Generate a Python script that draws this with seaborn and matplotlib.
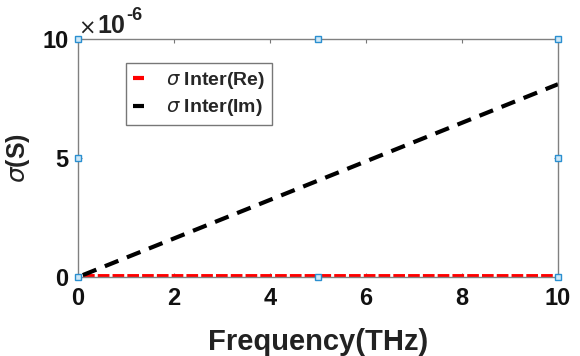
import matplotlib
matplotlib.use("Agg")
import matplotlib.pyplot as plt
import seaborn as sns
import pandas as pd
from matplotlib.ticker import FuncFormatter

# Data (frequency in THz, conductivity in S)
freq = [0.1, 1, 2, 3, 4, 5, 6, 7, 8, 9, 10]
sigma_inter_re = [0.05e-6, 0.05e-6, 0.05e-6, 0.05e-6, 0.05e-6, 0.05e-6,
                  0.05e-6, 0.05e-6, 0.05e-6, 0.05e-6, 0.05e-6]
sigma_inter_im = [0.08e-6, 0.81e-6, 1.62e-6, 2.43e-6, 3.24e-6, 4.05e-6,
                  4.86e-6, 5.67e-6, 6.48e-6, 7.29e-6, 8.10e-6]
series_labels = [r"$\sigma$ Inter(Re)", r"$\sigma$ Inter(Im)"]
x_ticks = [0, 2, 4, 6, 8, 10]
y_ticks = [0, 5e-6, 10e-6]

sns.set_theme(style="white")
plt.rcParams["font.family"] = ["Liberation Sans", "DejaVu Sans"]
plt.rcParams["mathtext.fontset"] = "dejavusans"

df = pd.DataFrame({"f": freq * 2,
                   "s": sigma_inter_re + sigma_inter_im,
                   "series": [series_labels[0]] * len(freq) + [series_labels[1]] * len(freq)})

fig = plt.figure(figsize=(5.8, 3.56), dpi=100)
ax = fig.add_axes([78 / 580, 1 - 277 / 356, 480 / 580, 238 / 356])

sns.lineplot(data=df[df.series == series_labels[0]], x="f", y="s", ax=ax,
             color="red", lw=2.8, legend=False)
ax.lines[-1].set_dashes([3, 0.8])
sns.lineplot(data=df[df.series == series_labels[1]], x="f", y="s", ax=ax,
             color="black", lw=3, legend=False)
ax.lines[-1].set_dashes([3.5, 2.2])

ax.set_xlim(0, 10)
ax.set_ylim(0, 10e-6)
ax.set_xticks(x_ticks)
ax.set_yticks(y_ticks)
ax.yaxis.set_major_formatter(FuncFormatter(lambda v, p: f"{v * 1e6:g}"))
ax.xaxis.set_major_formatter(FuncFormatter(lambda v, p: f"{v:g}"))
for lab in ax.get_xticklabels() + ax.get_yticklabels():
    lab.set_fontweight("bold")
    lab.set_fontsize(17)
    lab.set_color("#111111")

ax.tick_params(axis="both", direction="in", length=3, width=0.8, color="#777777",
               top=True, right=True, bottom=True, left=True, pad=7)
for s in ax.spines.values():
    s.set_color("#808080")
    s.set_linewidth(1.0)

ax.set_xlabel("Frequency(THz)", fontsize=21, fontweight="bold", color="#222222", labelpad=13)
ax.set_ylabel(r"$\sigma$(S)", fontsize=18, fontweight="bold", color="#222222", labelpad=7)

ax.text(0.0, 1.005, r"$\times$", transform=ax.transAxes,
        fontsize=15, color="#222222", ha="left", va="bottom")
ax.text(0.04, 1.005, "10", transform=ax.transAxes,
        fontsize=18, fontweight="bold", color="#222222", ha="left", va="bottom")
ax.text(0.1, 1.065, "-6", transform=ax.transAxes,
        fontsize=13, fontweight="bold", color="#222222", ha="left", va="bottom")

# selection handles (MATLAB-style)
hx = [0, 0.5, 1, 0, 1, 0, 0.5, 1]
hy = [0, 0, 0, 0.5, 0.5, 1, 1, 1]
ax.plot(hx, hy, linestyle="none", marker="s", ms=4.5, mfc="#cfe8f7", mec="#2a8fd0",
        mew=1, transform=ax.transAxes, clip_on=False, zorder=10)

from matplotlib.lines import Line2D
handles = [Line2D([], [], color="red", lw=3, solid_capstyle="butt"),
           Line2D([], [], color="black", lw=3, solid_capstyle="butt")]
leg = ax.legend(handles, series_labels, loc="upper left", bbox_to_anchor=(0.1, 0.9),
                frameon=True, prop={"weight": "bold", "size": 14}, handlelength=0.6,
                borderpad=0.35, labelspacing=0.35, handletextpad=1.1, fancybox=False,
                borderaxespad=0)
leg.get_frame().set_edgecolor("#555555")
leg.get_frame().set_linewidth(1.0)

fig.savefig("out.png", dpi=100)
